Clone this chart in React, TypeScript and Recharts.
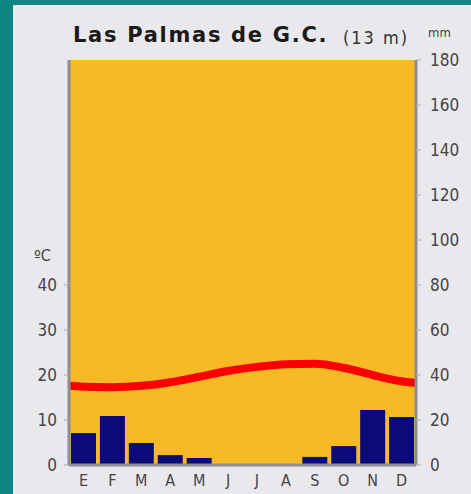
import React from 'react';
import { ComposedChart, Bar, Line, XAxis, YAxis, CartesianGrid } from 'recharts';

// Climograma de Las Palmas de Gran Canaria (13 m)
const months = ['E', 'F', 'M', 'A', 'M', 'J', 'J', 'A', 'S', 'O', 'N', 'D'];
const rainfall = [14.2, 21.8, 9.8, 4.4, 3.1, 0, 0, 0, 3.6, 8.4, 24.4, 21.3]; // mm
const temperature = [17.4, 17.3, 17.6, 18.4, 19.6, 20.9, 21.8, 22.4, 22.5, 21.6, 20.0, 18.6]; // °C
// temperature where the curve meets the left / right edge of the plot
const tempStart = 17.6;
const tempEnd = 18.2;

const tempTicks = [0, 10, 20, 30, 40];
const rainTicks = [0, 20, 40, 60, 80, 100, 120, 140, 160, 180];

const rainData = months.map((m, i) => ({ idx: i, month: m, rain: rainfall[i] }));
const tempData = [
  { x: 0, temp: tempStart },
  ...months.map((_, i) => ({ x: i + 0.5, temp: temperature[i] })),
  { x: 12, temp: tempEnd },
];

const FONT = '"DejaVu Sans Condensed", "DejaVu Sans", sans-serif';
const tickStyle = { fill: '#444', fontSize: 17, fontFamily: FONT };
const AXIS_GREY = '#8e8e8e';

export default function App() {
  return (
    <div
      style={{
        position: 'absolute',
        left: 0,
        top: 0,
        width: 471,
        height: 494,
        background: '#e9e9ed',
        overflow: 'hidden',
      }}
    >
      <div style={{ position: 'absolute', left: 0, top: 0, width: 13, height: 494, background: '#0d8684' }} />
      <div style={{ position: 'absolute', left: 0, top: 0, width: 471, height: 5, background: '#0d8684' }} />
      <div style={{ position: 'absolute', left: 0, top: 0 }}>
        <ComposedChart
          width={471}
          height={494}
          data={rainData}
          margin={{ top: 60, right: 10, bottom: 4, left: 29 }}
        >
          <CartesianGrid fill="#f7ba26" stroke="none" />
          <XAxis
            xAxisId="m"
            dataKey="idx"
            type="category"
            tickFormatter={(v: number) => months[v]}
            interval={0}
            height={25}
            axisLine={{ stroke: AXIS_GREY, strokeWidth: 3 }}
            tickLine={false}
            tickMargin={4}
            tick={{ ...tickStyle, fontSize: 16 }}
          />
          <XAxis xAxisId="num" dataKey="x" type="number" domain={[0, 12]} hide />
          <YAxis
            yAxisId="t"
            orientation="left"
            domain={[0, 90]}
            ticks={tempTicks}
            width={40}
            axisLine={{ stroke: AXIS_GREY, strokeWidth: 3 }}
            tickLine={{ stroke: '#aaa' }}
            tickSize={5}
            tickMargin={7}
            tick={tickStyle}
          />
          <YAxis
            yAxisId="p"
            orientation="right"
            domain={[0, 180]}
            ticks={rainTicks}
            width={45}
            axisLine={{ stroke: AXIS_GREY, strokeWidth: 3 }}
            tickLine={{ stroke: '#aaa' }}
            tickSize={5}
            tickMargin={9}
            tick={tickStyle}
          />
          <Bar
            xAxisId="m"
            yAxisId="p"
            dataKey="rain"
            barSize={25}
            fill="#0b0b78"
            isAnimationActive={false}
          />
          <Line
            xAxisId="num"
            yAxisId="t"
            data={tempData}
            type="monotone"
            dataKey="temp"
            stroke="#fb0000"
            strokeWidth={8}
            dot={false}
            activeDot={false}
            isAnimationActive={false}
          />
        </ComposedChart>
      </div>
      <svg
        width={471}
        height={494}
        style={{ position: 'absolute', left: 0, top: 0, pointerEvents: 'none' }}
      >
        <text
          x={73}
          y={42}
          fontFamily='"DejaVu Sans", sans-serif'
          fontWeight="bold"
          fontSize={21}
          letterSpacing={1.7}
          fill="#1a1a1a"
        >
          Las Palmas de G.C.
        </text>
        <text x={343} y={44} fontFamily={FONT} fontSize={18} letterSpacing={2} fill="#333">
          (13 m)
        </text>
        <text x={428} y={37} fontFamily={FONT} fontSize={13} fill="#444">
          mm
        </text>
        <text x={34} y={261} fontFamily={FONT} fontSize={16} fill="#444">
          ºC
        </text>
      </svg>
    </div>
  );
}
